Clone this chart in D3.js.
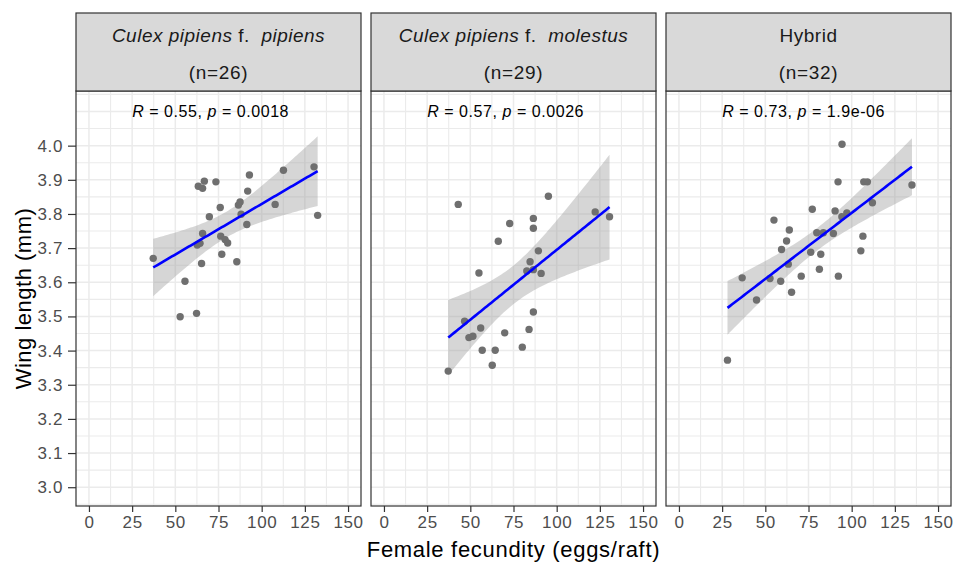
<!DOCTYPE html>
<html>
<head>
<meta charset="utf-8">
<script src="https://cdn.jsdelivr.net/npm/d3@7"></script>
<style>
  body { margin: 0; background: #fff; }
  svg { display: block; font-family: "Liberation Sans", Arial, sans-serif; }
  text { white-space: pre; }
</style>
</head>
<body>
<svg id="chart" width="955" height="567"></svg>
<script>
// Wing length vs. female fecundity, one facet per form
const formTitles = [
  [{t: "Culex pipiens", i: true}, {t: " f.  ", i: false}, {t: "pipiens", i: true}],
  [{t: "Culex pipiens", i: true}, {t: " f.  ", i: false}, {t: "molestus", i: true}],
  [{t: "Hybrid", i: false}]
];
const sampleSizes = [26, 29, 32];
const corR = ["0.55", "0.57", "0.73"];
const corP = ["0.0018", "0.0026", "1.9e-06"];

const pipiensFecundity = [37.2, 52.8, 62.3, 55.6, 65.2, 62.7, 65.8, 64.3, 69.7, 63.3, 66.8, 65.8, 73.5, 76.0, 76.3, 78.8, 80.3, 76.9, 85.6, 86.5, 87.5, 88.1, 91.4, 91.9, 92.9, 107.8, 112.6, 130.3, 132.4];
const pipiensWing      = [3.670, 3.499, 3.509, 3.603, 3.655, 3.709, 3.743, 3.714, 3.792, 3.881, 3.896, 3.875, 3.894, 3.819, 3.735, 3.725, 3.715, 3.682, 3.660, 3.826, 3.835, 3.799, 3.769, 3.867, 3.914, 3.828, 3.928, 3.938, 3.796];

const molestusFecundity = [37.2, 43.0, 46.7, 49.2, 51.5, 55.0, 56.0, 56.9, 62.7, 64.4, 66.2, 69.9, 72.8, 80.1, 82.7, 84.0, 84.6, 86.5, 86.5, 86.5, 89.4, 91.0, 95.2, 122.3, 130.6, 86.5];
const molestusWing      = [3.340, 3.828, 3.486, 3.438, 3.442, 3.627, 3.466, 3.401, 3.357, 3.401, 3.720, 3.452, 3.772, 3.410, 3.633, 3.462, 3.660, 3.787, 3.758, 3.513, 3.692, 3.626, 3.852, 3.806, 3.792, 3.637];

const hybridFecundity = [28.1, 36.6, 44.9, 52.7, 55.0, 58.9, 59.4, 62.3, 63.9, 63.3, 65.2, 70.8, 76.3, 77.2, 79.8, 81.3, 82.1, 83.6, 89.4, 90.4, 92.1, 92.3, 94.3, 94.4, 97.2, 105.3, 106.5, 107.0, 109.1, 112.0, 134.9];
const hybridWing      = [3.372, 3.613, 3.548, 3.611, 3.782, 3.603, 3.696, 3.721, 3.753, 3.653, 3.571, 3.618, 3.688, 3.814, 3.745, 3.638, 3.682, 3.745, 3.743, 3.809, 3.894, 3.618, 3.792, 4.004, 3.803, 3.692, 3.735, 3.894, 3.894, 3.833, 3.885];

const xTicks = [0, 25, 50, 75, 100, 125, 150];
const yTicks = [3.0, 3.1, 3.2, 3.3, 3.4, 3.5, 3.6, 3.7, 3.8, 3.9, 4.0];

const panels = [
  {x: pipiensFecundity, y: pipiensWing},
  {x: molestusFecundity, y: molestusWing},
  {x: hybridFecundity, y: hybridWing}
];

// layout
const svg = d3.select("#chart");
const panelW = 285, panelGap = 10, left0 = 76;
const stripTop = 13, panelTop = 91, panelBottom = 506;
const font = "'Liberation Sans', Arial, sans-serif";

const x = d3.scaleLinear().domain([-7.5, 157.5]).range([0, panelW]);
const y = d3.scaleLinear().domain([2.945, 4.16]).range([panelBottom, panelTop]);

// Student t quantile (Cornish-Fisher expansion)
function tQuantile(p, df) {
  const z = -Math.sqrt(2) * erfcinv(2 * p);
  const g1 = (z ** 3 + z) / 4;
  const g2 = (5 * z ** 5 + 16 * z ** 3 + 3 * z) / 96;
  const g3 = (3 * z ** 7 + 19 * z ** 5 + 17 * z ** 3 - 15 * z) / 384;
  return z + g1 / df + g2 / df ** 2 + g3 / df ** 3;
}
function erfcinv(v) {
  // bisection on the erf approximation
  let lo = -10, hi = 10;
  const target = 1 - v;
  for (let k = 0; k < 200; k++) {
    const mid = (lo + hi) / 2;
    if (erf(mid) < target) lo = mid; else hi = mid;
  }
  return (lo + hi) / 2;
}
function erf(xx) {
  const s = Math.sign(xx); xx = Math.abs(xx);
  const t = 1 / (1 + 0.3275911 * xx);
  const yv = 1 - (((((1.061405429 * t - 1.453152027) * t) + 1.421413741) * t - 0.284496736) * t + 0.254829592) * t * Math.exp(-xx * xx);
  return s * yv;
}

// linear model with 95% confidence band
function fitLm(xs, ys) {
  const n = xs.length;
  const mx = d3.mean(xs), my = d3.mean(ys);
  let sxx = 0, sxy = 0;
  for (let i = 0; i < n; i++) { sxx += (xs[i] - mx) ** 2; sxy += (xs[i] - mx) * (ys[i] - my); }
  const b = sxy / sxx, a = my - b * mx;
  let sse = 0;
  for (let i = 0; i < n; i++) sse += (ys[i] - a - b * xs[i]) ** 2;
  const s = Math.sqrt(sse / (n - 2));
  const tq = tQuantile(0.975, n - 2);
  const [x0, x1] = d3.extent(xs);
  return d3.range(80).map(k => {
    const xv = x0 + (x1 - x0) * k / 79;
    const fit = a + b * xv;
    const se = s * Math.sqrt(1 / n + (xv - mx) ** 2 / sxx);
    return {x: xv, fit, lo: fit - tq * se, hi: fit + tq * se};
  });
}

panels.forEach((p, pi) => {
  const px = left0 + pi * (panelW + panelGap);
  const g = svg.append("g").attr("transform", `translate(${px},0)`);

  // background + grid
  g.append("rect").attr("x", 0).attr("y", panelTop).attr("width", panelW)
    .attr("height", panelBottom - panelTop).attr("fill", "#fff");
  const gridX = d3.range(0, 150.01, 12.5);
  const gridY = d3.range(2.95, 4.151, 0.05);
  g.selectAll(".gx").data(gridX).join("line")
    .attr("x1", d => x(d)).attr("x2", d => x(d))
    .attr("y1", panelTop).attr("y2", panelBottom)
    .attr("stroke", "#ebebeb").attr("stroke-width", (d, i) => i % 2 === 0 ? 1.5 : 1.1);
  g.selectAll(".gy").data(gridY).join("line")
    .attr("x1", 0).attr("x2", panelW)
    .attr("y1", d => y(d)).attr("y2", d => y(d))
    .attr("stroke", "#ebebeb").attr("stroke-width", (d, i) => i % 2 === 1 ? 1.5 : 1.1);

  // confidence band
  const fit = fitLm(p.x, p.y);
  g.append("path").datum(fit)
    .attr("d", d3.area().x(d => x(d.x)).y0(d => y(d.lo)).y1(d => y(d.hi)))
    .attr("fill", "#999999").attr("fill-opacity", 0.4);

  // points
  g.selectAll(".pt").data(p.x.map((v, i) => [v, p.y[i]])).join("circle")
    .attr("cx", d => x(d[0])).attr("cy", d => y(d[1])).attr("r", 3.7)
    .attr("fill", "#6f6f6f");

  // fitted line
  g.append("path").datum(fit)
    .attr("d", d3.line().x(d => x(d.x)).y(d => y(d.fit)))
    .attr("fill", "none").attr("stroke", "#0000ff").attr("stroke-width", 2.6);

  // correlation label
  const lab = g.append("text").attr("x", x(25)).attr("y", y(4.1)).attr("dy", "0.35em")
    .attr("font-size", 16).attr("letter-spacing", 0.55).attr("fill", "#000");
  lab.append("tspan").attr("font-style", "italic").text("R");
  lab.append("tspan").text(` = ${corR[pi]}, `);
  lab.append("tspan").attr("font-style", "italic").text("p");
  lab.append("tspan").text(` = ${corP[pi]}`);

  // panel border
  g.append("rect").attr("x", 0).attr("y", panelTop).attr("width", panelW)
    .attr("height", panelBottom - panelTop).attr("fill", "none")
    .attr("stroke", "#333333").attr("stroke-width", 1.2);

  // strip
  g.append("rect").attr("x", 0).attr("y", stripTop).attr("width", panelW)
    .attr("height", panelTop - stripTop).attr("fill", "#d9d9d9")
    .attr("stroke", "#333333").attr("stroke-width", 1.2);
  const t1 = g.append("text").attr("x", panelW / 2).attr("y", 41.5)
    .attr("text-anchor", "middle").attr("font-size", 19).attr("letter-spacing", 0.5).attr("fill", "#1a1a1a");
  formTitles[pi].forEach(s => t1.append("tspan").attr("font-style", s.i ? "italic" : "normal").text(s.t));
  g.append("text").attr("x", panelW / 2).attr("y", 79).attr("text-anchor", "middle")
    .attr("font-size", 19).attr("letter-spacing", 0.7).attr("fill", "#1a1a1a").text(`(n=${sampleSizes[pi]})`);

  // x axis
  const xa = g.append("g").attr("transform", `translate(0,${panelBottom})`)
    .call(d3.axisBottom(x).tickValues(xTicks).tickSize(6).tickPadding(4).tickFormat(d3.format("d")));
  xa.select(".domain").remove();
  xa.selectAll("line").attr("stroke", "#333333").attr("stroke-width", 1.2);
  xa.selectAll("text").attr("font-size", 17).attr("letter-spacing", 0.6)
    .attr("fill", "#4d4d4d").attr("font-family", font);
});

// y axis (left panel only)
const ya = svg.append("g").attr("transform", `translate(${left0},0)`)
  .call(d3.axisLeft(y).tickValues(yTicks).tickSize(8).tickPadding(5).tickFormat(d3.format(".1f")));
ya.select(".domain").remove();
ya.selectAll("line").attr("stroke", "#333333").attr("stroke-width", 1.2);
ya.selectAll("text").attr("font-size", 17).attr("letter-spacing", 0.6)
  .attr("fill", "#4d4d4d").attr("font-family", font);

// axis titles
svg.append("text").attr("x", left0 + (3 * panelW + 2 * panelGap) / 2).attr("y", 557)
  .attr("text-anchor", "middle").attr("font-size", 22).attr("letter-spacing", 0.7).attr("fill", "#000")
  .text("Female fecundity (eggs/raft)");
svg.append("text").attr("transform", `translate(31,${(panelTop + panelBottom) / 2}) rotate(-90)`)
  .attr("text-anchor", "middle").attr("font-size", 22).attr("letter-spacing", 0.5).attr("fill", "#000")
  .text("Wing length (mm)");
</script>
</body>
</html>
